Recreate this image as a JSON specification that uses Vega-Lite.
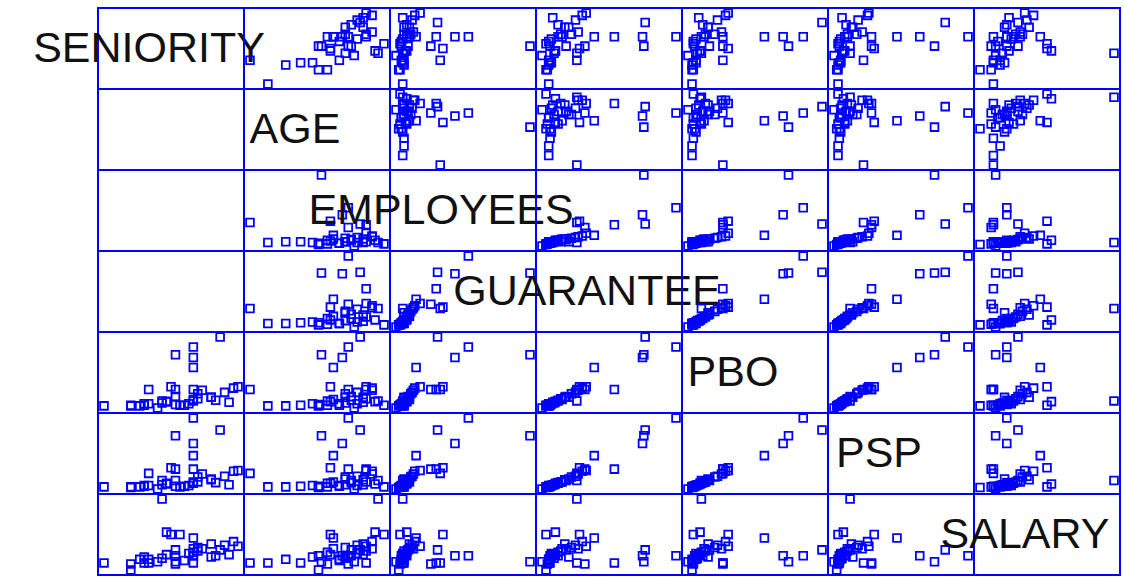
{
  "$schema": "https://vega.github.io/schema/vega-lite/v6.json",
  "padding": {"left": 32, "top": 4, "right": 0, "bottom": 0},
  "background": "white",
  "bounds": "flush",
  "data": {"values": [
    {"SENIORITY": 21, "AGE": 53, "EMPLOYEES": 820, "GUARANTEE": 602, "PBO": 1209, "PSP": 1103, "SALARY": 32000},
    {"SENIORITY": 27, "AGE": 57, "EMPLOYEES": 475, "GUARANTEE": 464, "PBO": 1405, "PSP": 916, "SALARY": 37000},
    {"SENIORITY": 17, "AGE": 44, "EMPLOYEES": 1510, "GUARANTEE": 458, "PBO": 1055, "PSP": 828, "SALARY": 27000},
    {"SENIORITY": 21, "AGE": 51, "EMPLOYEES": 670, "GUARANTEE": 452, "PBO": 999, "PSP": 707, "SALARY": 32000},
    {"SENIORITY": 21, "AGE": 48, "EMPLOYEES": 235, "GUARANTEE": 236, "PBO": 803, "PSP": 520, "SALARY": 47000},
    {"SENIORITY": 17, "AGE": 53, "EMPLOYEES": 400, "GUARANTEE": 194, "PBO": 369, "PSP": 311, "SALARY": 25000},
    {"SENIORITY": 21, "AGE": 59, "EMPLOYEES": 460, "GUARANTEE": 326, "PBO": 369, "PSP": 311, "SALARY": 26000},
    {"SENIORITY": 16, "AGE": 47, "EMPLOYEES": 535, "GUARANTEE": 170, "PBO": 425, "PSP": 333, "SALARY": 50000},
    {"SENIORITY": 11, "AGE": 20, "EMPLOYEES": 505, "GUARANTEE": 158, "PBO": 369, "PSP": 245, "SALARY": 26000},
    {"SENIORITY": 1, "AGE": 26, "EMPLOYEES": 85, "GUARANTEE": 32, "PBO": 47, "PSP": 36, "SALARY": 26000},
    {"SENIORITY": 9, "AGE": 32, "EMPLOYEES": 100, "GUARANTEE": 32, "PBO": 47, "PSP": 36, "SALARY": 29000},
    {"SENIORITY": 10, "AGE": 37, "EMPLOYEES": 100, "GUARANTEE": 38, "PBO": 61, "PSP": 47, "SALARY": 26000},
    {"SENIORITY": 14, "AGE": 63, "EMPLOYEES": 85, "GUARANTEE": 158, "PBO": 145, "PSP": 135, "SALARY": 80000},
    {"SENIORITY": 17, "AGE": 43, "EMPLOYEES": 70, "GUARANTEE": 38, "PBO": 75, "PSP": 47, "SALARY": 32000},
    {"SENIORITY": 21, "AGE": 46, "EMPLOYEES": 130, "GUARANTEE": 74, "PBO": 145, "PSP": 91, "SALARY": 35000},
    {"SENIORITY": 21, "AGE": 48, "EMPLOYEES": 160, "GUARANTEE": 92, "PBO": 173, "PSP": 113, "SALARY": 38000},
    {"SENIORITY": 25, "AGE": 52, "EMPLOYEES": 100, "GUARANTEE": 122, "PBO": 215, "PSP": 157, "SALARY": 31000},
    {"SENIORITY": 28, "AGE": 56, "EMPLOYEES": 190, "GUARANTEE": 152, "PBO": 313, "PSP": 201, "SALARY": 41000},
    {"SENIORITY": 29, "AGE": 58, "EMPLOYEES": 85, "GUARANTEE": 50, "PBO": 117, "PSP": 69, "SALARY": 33000},
    {"SENIORITY": 30, "AGE": 61, "EMPLOYEES": 220, "GUARANTEE": 182, "PBO": 397, "PSP": 278, "SALARY": 44000},
    {"SENIORITY": 18, "AGE": 65, "EMPLOYEES": 55, "GUARANTEE": 20, "PBO": 61, "PSP": 36, "SALARY": 50000},
    {"SENIORITY": 15, "AGE": 62, "EMPLOYEES": 130, "GUARANTEE": 62, "PBO": 131, "PSP": 80, "SALARY": 52000},
    {"SENIORITY": 13, "AGE": 55, "EMPLOYEES": 10, "GUARANTEE": 2, "PBO": 5, "PSP": 3, "SALARY": 27000},
    {"SENIORITY": 17, "AGE": 54, "EMPLOYEES": 145, "GUARANTEE": 110, "PBO": 229, "PSP": 135, "SALARY": 37000},
    {"SENIORITY": 11, "AGE": 50, "EMPLOYEES": 70, "GUARANTEE": 32, "PBO": 89, "PSP": 58, "SALARY": 29000},
    {"SENIORITY": 7, "AGE": 46, "EMPLOYEES": 55, "GUARANTEE": 26, "PBO": 61, "PSP": 36, "SALARY": 25000},
    {"SENIORITY": 7, "AGE": 43, "EMPLOYEES": 40, "GUARANTEE": 20, "PBO": 47, "PSP": 25, "SALARY": 20000},
    {"SENIORITY": 10, "AGE": 41, "EMPLOYEES": 85, "GUARANTEE": 44, "PBO": 89, "PSP": 58, "SALARY": 31000},
    {"SENIORITY": 15, "AGE": 47, "EMPLOYEES": 115, "GUARANTEE": 62, "PBO": 131, "PSP": 91, "SALARY": 33000},
    {"SENIORITY": 22, "AGE": 52, "EMPLOYEES": 175, "GUARANTEE": 134, "PBO": 285, "PSP": 190, "SALARY": 39000},
    {"SENIORITY": 22, "AGE": 59, "EMPLOYEES": 100, "GUARANTEE": 86, "PBO": 187, "PSP": 113, "SALARY": 36000},
    {"SENIORITY": 25, "AGE": 58, "EMPLOYEES": 160, "GUARANTEE": 104, "PBO": 215, "PSP": 146, "SALARY": 42000},
    {"SENIORITY": 23, "AGE": 61, "EMPLOYEES": 205, "GUARANTEE": 164, "PBO": 355, "PSP": 234, "SALARY": 38000},
    {"SENIORITY": 31, "AGE": 59, "EMPLOYEES": 280, "GUARANTEE": 200, "PBO": 425, "PSP": 289, "SALARY": 40000},
    {"SENIORITY": 19, "AGE": 50, "EMPLOYEES": 70, "GUARANTEE": 32, "PBO": 61, "PSP": 47, "SALARY": 28000},
    {"SENIORITY": 14, "AGE": 52, "EMPLOYEES": 100, "GUARANTEE": 56, "PBO": 103, "PSP": 69, "SALARY": 30000},
    {"SENIORITY": 26, "AGE": 54, "EMPLOYEES": 130, "GUARANTEE": 74, "PBO": 159, "PSP": 102, "SALARY": 32000},
    {"SENIORITY": 20, "AGE": 56, "EMPLOYEES": 85, "GUARANTEE": 44, "PBO": 89, "PSP": 58, "SALARY": 34000}
  ]},
  "transform": [
    {"fold": ["SENIORITY", "AGE", "EMPLOYEES", "GUARANTEE", "PBO", "PSP", "SALARY"], "as": ["rowvar", "yv"]},
    {"fold": ["SENIORITY", "AGE", "EMPLOYEES", "GUARANTEE", "PBO", "PSP", "SALARY"], "as": ["colvar", "xv"]}
  ],
  "facet": {
    "row": {"field": "rowvar", "type": "nominal", "sort": ["SENIORITY", "AGE", "EMPLOYEES", "GUARANTEE", "PBO", "PSP", "SALARY"], "header": null},
    "column": {"field": "colvar", "type": "nominal", "sort": ["SENIORITY", "AGE", "EMPLOYEES", "GUARANTEE", "PBO", "PSP", "SALARY"], "header": null}
  },
  "spacing": 0,
  "resolve": {"scale": {"x": "independent", "y": "independent"}},
  "spec": {
    "width": 146,
    "height": 81,
    "layer": [
      {
        "transform": [{"filter": "datum.rowvar !== datum.colvar && !(datum.colvar === 'SENIORITY' && (datum.rowvar === 'AGE' || datum.rowvar === 'EMPLOYEES' || datum.rowvar === 'GUARANTEE'))"}],
        "mark": {"type": "point", "shape": "square", "filled": false, "color": "#0000ff", "size": 60, "strokeWidth": 1.8, "opacity": 1},
        "encoding": {
          "x": {"field": "xv", "type": "quantitative", "scale": {"zero": false, "nice": false, "padding": 6}, "axis": null},
          "y": {"field": "yv", "type": "quantitative", "scale": {"zero": false, "nice": false, "padding": 5}, "axis": null}
        }
      },
      {
        "transform": [
          {"filter": "datum.rowvar === datum.colvar"},
          {"aggregate": [{"op": "count", "as": "n"}], "groupby": ["rowvar", "colvar"]}
        ],
        "mark": {"type": "text", "fontSize": 43, "font": "Liberation Sans", "color": "#111111", "dx": -22, "align": "center", "baseline": "middle"},
        "encoding": {"text": {"field": "rowvar", "type": "nominal"}}
      }
    ]
  },
  "config": {
    "view": {"stroke": "#0000ff", "strokeWidth": 2},
    "facet": {"spacing": 0}
  }
}
